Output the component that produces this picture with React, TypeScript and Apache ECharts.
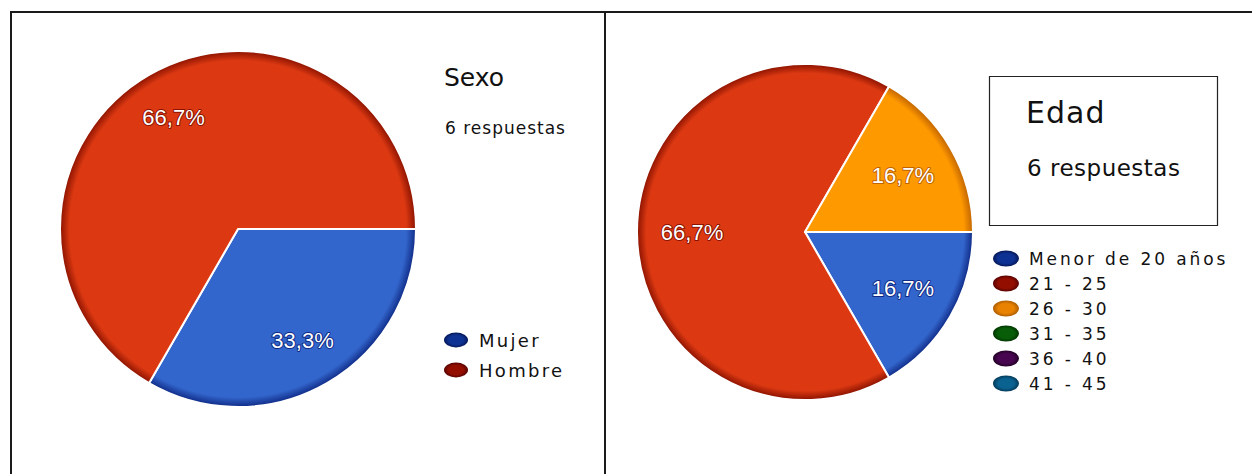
import React, { useEffect, useRef } from 'react';
import * as echarts from 'echarts';

// ---- data ----
const sexoTitle = 'Sexo';
const edadTitle = 'Edad';
const respuestasText = '6 respuestas';
const sexoCategories = ['Mujer', 'Hombre'];
const sexoValues = [2, 4];
const edadCategories = ['Menor de 20 años', '21 - 25', '26 - 30', '31 - 35', '36 - 40', '41 - 45'];
const edadValues = [1, 4, 1, 0, 0, 0];

// ---- styles ----
const sliceColors: Record<string, string> = {
  blue: '#3366CC', red: '#DC3912', orange: '#FF9900', green: '#109618', purple: '#990099', teal: '#0099C6',
};
const sliceEdge: Record<string, string> = {
  blue: '#0f2a86', red: '#8a1200', orange: '#c06400', green: '#0a5a0a', purple: '#5a005a', teal: '#005a80',
};
const markerCenter: Record<string, string> = {
  blue: '#0e3294', red: '#940e00', orange: '#e88200', green: '#085e08', purple: '#480650', teal: '#0a6290',
};
const markerEdge: Record<string, string> = {
  blue: '#04124a', red: '#4a0000', orange: '#a05400', green: '#002c00', purple: '#1a001a', teal: '#03304c',
};
const sexoKeys = ['blue', 'red'];
const edadKeys = ['blue', 'red', 'orange', 'green', 'purple', 'teal'];

const ELLIPSE = 'path://M0,8 A13,8 0 1,0 26,8 A13,8 0 1,0 0,8 Z';

function pct(v: number, arr: number[]) {
  const total = arr.reduce((a, b) => a + b, 0);
  return ((v / total) * 100).toFixed(1).replace('.', ',') + '%';
}

function sliceGrad(key: string, cx: number, cy: number, r: number) {
  return {
    type: 'radial', x: cx, y: cy, r, global: true,
    colorStops: [
      { offset: 0, color: sliceColors[key] },
      { offset: 0.945, color: sliceColors[key] },
      { offset: 1, color: sliceEdge[key] },
    ],
  };
}

function markerGrad(key: string) {
  return {
    type: 'radial', x: 0.5, y: 0.5, r: 0.55,
    colorStops: [
      { offset: 0, color: markerCenter[key] },
      { offset: 0.55, color: markerCenter[key] },
      { offset: 1, color: markerEdge[key] },
    ],
  };
}

function buildPie(name: string, cats: string[], vals: number[], keys: string[], cx: number, cy: number, r: number) {
  return {
    name, type: 'pie', center: [cx, cy], radius: [0, r], startAngle: 0, clockwise: true,
    silent: true, label: { show: false }, labelLine: { show: false }, emphasis: { disabled: true },
    itemStyle: { borderColor: '#ffffff', borderWidth: 2 },
    data: cats.map((c, i) => ({ name: c, value: vals[i], itemStyle: { color: sliceGrad(keys[i], cx, cy, r) } })),
    z: 2,
  };
}

function buildGhost(name: string, cats: string[], vals: number[], keys: string[], cx: number, cy: number, labelR: number) {
  return {
    name, type: 'pie', center: [cx, cy], radius: [0, labelR * 2], startAngle: 0, clockwise: true,
    silent: true, emphasis: { disabled: true }, labelLine: { show: false },
    itemStyle: { color: 'rgba(0,0,0,0)', borderWidth: 0 },
    label: {
      show: true, position: 'inside', color: '#ffffff', fontSize: 22,
      fontFamily: "'Liberation Sans', Arial, sans-serif",
      formatter: (p: any) => (p.value > 0 ? pct(p.value, vals) : ''),
    },
    data: cats.map((c, i) => ({
      name: c, value: vals[i],
      label: { textBorderColor: sliceEdge[keys[i]], textBorderWidth: 2 },
    })),
    z: 5,
  };
}

export default function App() {
  const ref = useRef<HTMLDivElement>(null);
  useEffect(() => {
    if (!ref.current) return;
    const chart = echarts.init(ref.current, null, { renderer: 'svg' });
    const lineStyle = { stroke: '#1a1a1a', lineWidth: 2 };
    chart.setOption({
      animation: false,
      backgroundColor: '#ffffff',
      legend: [
        {
          orient: 'vertical', left: 444, top: 331, padding: 0, itemWidth: 24, itemHeight: 17, itemGap: 12,
          selectedMode: false, icon: ELLIPSE,
          itemStyle: { borderWidth: 0 },
          textStyle: { fontSize: 18, color: '#111', fontFamily: "'DejaVu Sans', lsLegA", padding: [0, 0, 0, 6] },
          data: sexoCategories.map((c, i) => ({ name: c, itemStyle: { color: markerGrad(sexoKeys[i]), borderWidth: 0 } })),
        },
        {
          orient: 'vertical', left: 993, top: 250, padding: 0, itemWidth: 26, itemHeight: 17, itemGap: 8,
          selectedMode: false, icon: ELLIPSE,
          itemStyle: { borderWidth: 0 },
          textStyle: { fontSize: 17, color: '#111', fontFamily: "'DejaVu Sans', lsLegB", padding: [0, 0, 0, 5] },
          data: edadCategories.map((c, i) => ({ name: c, itemStyle: { color: markerGrad(edadKeys[i]), borderWidth: 0 } })),
        },
      ],
      graphic: [
        { type: 'line', shape: { x1: 10, y1: 12, x2: 1252, y2: 12 }, style: lineStyle },
        { type: 'line', shape: { x1: 11, y1: 12, x2: 11, y2: 474 }, style: lineStyle },
        { type: 'line', shape: { x1: 605, y1: 12, x2: 605, y2: 474 }, style: lineStyle },
        { type: 'rect', shape: { x: 989.5, y: 76.5, width: 228, height: 149 }, style: { fill: 'none', stroke: '#222', lineWidth: 1.2 } },
        { type: 'text', x: 444, y: 77, style: { text: sexoTitle, fontSize: 25, fill: '#111', fontFamily: "'DejaVu Sans'", textVerticalAlign: 'middle' } },
        { type: 'text', x: 445, y: 128, style: { text: respuestasText, fontSize: 17, fill: '#111', fontFamily: "'DejaVu Sans', lsSubA", textVerticalAlign: 'middle' } },
        { type: 'text', x: 1026, y: 112, style: { text: edadTitle, fontSize: 30, fill: '#111', fontFamily: "'DejaVu Sans', lsTitB", textVerticalAlign: 'middle' } },
        { type: 'text', x: 1027, y: 168, style: { text: respuestasText, fontSize: 23, fill: '#111', fontFamily: "'DejaVu Sans', lsSubB", textVerticalAlign: 'middle' } },
      ],
      series: [
        buildPie('Sexo', sexoCategories, sexoValues, sexoKeys, 238, 229, 178),
        buildPie('Edad', edadCategories, edadValues, edadKeys, 805, 232, 168),
        buildGhost('SexoLabels', sexoCategories, sexoValues, sexoKeys, 238, 229, 126),
        buildGhost('EdadLabels', edadCategories, edadValues, edadKeys, 805, 232, 110),
      ],
    });
    return () => chart.dispose();
  }, []);
  return (
    <>
      <style>{`
        text[style*="lsLegA"] { letter-spacing: 2.3px; }
        text[style*="lsLegB"] { letter-spacing: 2.9px; }
        text[style*="lsSubA"] { letter-spacing: 1px; }
        text[style*="lsTitB"] { letter-spacing: 1px; }
        text[style*="lsSubB"] { letter-spacing: 0.5px; }
      `}</style>
      <div ref={ref} style={{ position: 'absolute', left: 0, top: 0, width: 1252, height: 474 }} />
    </>
  );
}
